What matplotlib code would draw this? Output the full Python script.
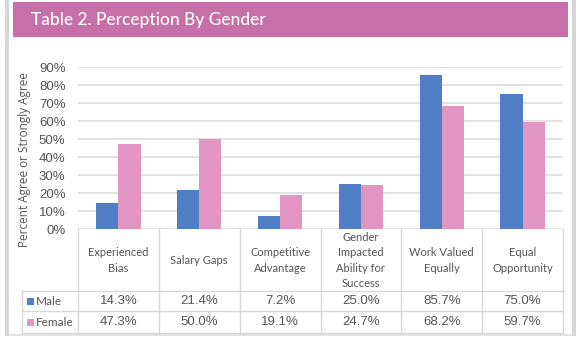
import matplotlib.pyplot as plt
from matplotlib.patches import Rectangle

W, H = 585, 338

categories = ["Experienced\nBias", "Salary Gaps", "Competitive\nAdvantage",
              "Gender\nImpacted\nAbility for\nSuccess", "Work Valued\nEqually", "Equal\nOpportunity"]
male = [14.3, 21.4, 7.2, 25.0, 85.7, 75.0]
female = [47.3, 50.0, 19.1, 24.7, 68.2, 59.7]
series_names = ["Male", "Female"]
yticks = [0, 10, 20, 30, 40, 50, 60, 70, 80, 90]

MALE_C = "#4F7EC4"
FEMALE_C = "#E295C2"
BANNER_C = "#C66FA9"
TEXT_C = "#555555"
GRID_C = "#DADADA"

fig = plt.figure(figsize=(W / 100, H / 100), dpi=100)
fig.patch.set_facecolor("white")


def px_axes(left, top, right, bottom):
    return fig.add_axes([left / W, 1 - bottom / H, (right - left) / W, (bottom - top) / H])


# frame strips and title banner
bg = px_axes(0, 0, W, H)
bg.set_xlim(0, W)
bg.set_ylim(H, 0)
bg.axis("off")
bg.add_patch(Rectangle((5, 0), 4, 336, color="#D6D6D6", lw=0))
bg.add_patch(Rectangle((572, 0), 4, 336, color="#D6D6D6", lw=0))
bg.add_patch(Rectangle((9, 334), 563, 2, color="#E2E2E2", lw=0))
bg.add_patch(Rectangle((13, 2), 555, 35, color=BANNER_C, lw=0))
bg.text(31, 19.5, "Table 2. Perception By Gender", color="white", fontsize=12.5,
        family="Lato", weight="medium", va="center", ha="left")

# bar chart
ax = px_axes(78, 67, 563, 229)
x = list(range(len(categories)))
w = 0.275
ax.bar([i - w / 2 for i in x], male, width=w, color=MALE_C, zorder=3)
ax.bar([i + w / 2 for i in x], female, width=w, color=FEMALE_C, zorder=3)
ax.set_xlim(-0.5, len(categories) - 0.5)
ax.set_ylim(0, 90)
ax.set_yticks(yticks)
ax.set_yticklabels([f"{t}%" for t in yticks], fontsize=9.5, color=TEXT_C, family="Liberation Sans")
ax.set_xticks([])
ax.tick_params(axis="y", length=0, pad=9)
ax.grid(axis="y", color=GRID_C, lw=1.1, zorder=0)
for s in ax.spines.values():
    s.set_visible(False)
ax.set_ylabel("Percent Agree or Strongly Agree", fontsize=8.5, color=TEXT_C, family="Open Sans")
ax.yaxis.set_label_coords(-0.097, 0.426)

# data table under the bars
tb = px_axes(0, 229, W, 336)
tb.set_xlim(0, W)
tb.set_ylim(336, 229)
tb.axis("off")
col_edges = [78 + i * (563 - 78) / len(categories) for i in range(len(categories) + 1)]
row_y = [229, 291, 311, 333]
line_kw = dict(color="#D8D8D8", lw=1)
for xe in col_edges:
    tb.plot([xe, xe], [229, 333], **line_kw)
tb.plot([22, 22], [291, 333], **line_kw)
for ye in row_y[1:]:
    tb.plot([22, 563], [ye, ye], **line_kw)

for i, cat in enumerate(categories):
    cx = (col_edges[i] + col_edges[i + 1]) / 2
    tb.text(cx, 260.5, cat, ha="center", va="center", fontsize=8, color=TEXT_C,
            family="Lato", linespacing=1.45)
    tb.text(cx, 301.5, f"{male[i]:.1f}%", ha="center", va="center", fontsize=9.5,
            color=TEXT_C, family="Liberation Sans")
    tb.text(cx, 322.5, f"{female[i]:.1f}%", ha="center", va="center", fontsize=9.5,
            color=TEXT_C, family="Liberation Sans")

for name, color, cy in zip(series_names, [MALE_C, FEMALE_C], [301.5, 322.5]):
    tb.add_patch(Rectangle((27, cy - 3.5), 7, 7, color=color, lw=0))
    tb.text(36, cy, name, ha="left", va="center", fontsize=8.5, color=TEXT_C, family="Lato")

fig.savefig("out.png", dpi=100)
